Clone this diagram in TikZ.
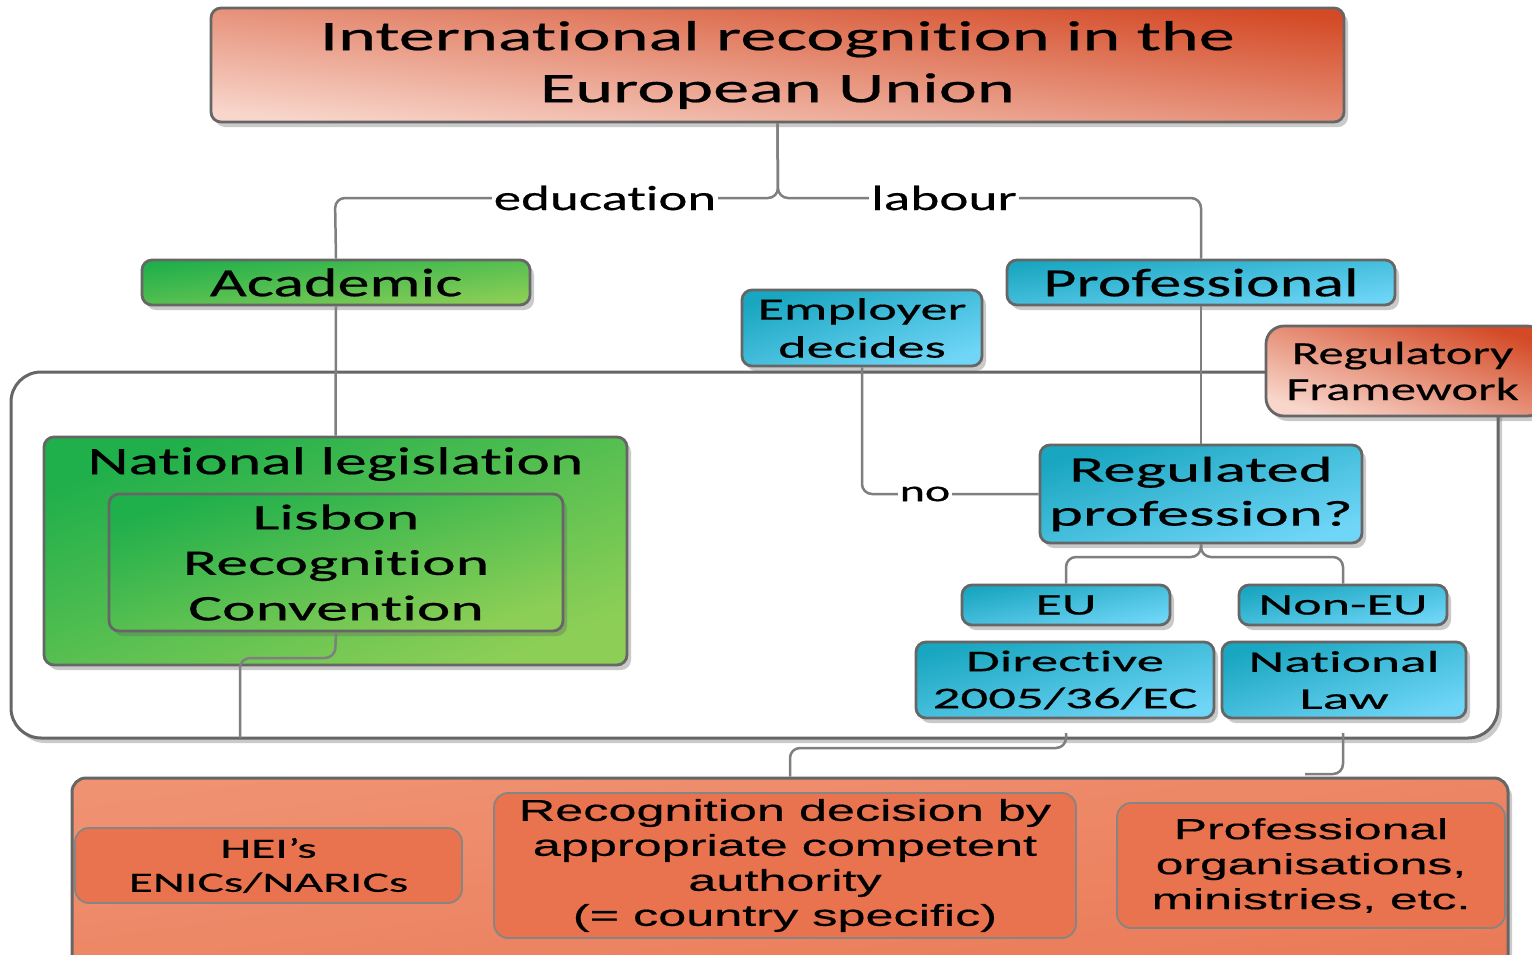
\documentclass[tikz,border=0pt]{standalone}
\usepackage{fontspec}
\setmainfont{Carlito}[Ligatures=NoCommon]
\newfontfamily\arialf{Liberation Sans}[Ligatures=NoCommon]
\usetikzlibrary{shadows}
\newcommand\fsz[3]{\fontsize{#1}{#2}\selectfont\addfontfeatures{FakeStretch=#3,FakeBold=0.5}}
\definecolor{strokec}{HTML}{666666}
\definecolor{linec}{HTML}{7F7F7F}
\definecolor{oD}{HTML}{D44A26}
\definecolor{oL}{HTML}{F8D6CB}
\definecolor{gD}{HTML}{1FAF4B}
\definecolor{gL}{HTML}{8DCF56}
\definecolor{bD}{HTML}{19A6C0}
\definecolor{bL}{HTML}{70D6F8}
\definecolor{botA}{HTML}{EF9272}
\definecolor{botB}{HTML}{EA7A57}
\definecolor{inner}{HTML}{E9734F}
\tikzset{
  shad/.style={drop shadow={shadow xshift=4pt, shadow yshift=-5pt, opacity=0.35, fill=black!60}},
  box/.style={draw=strokec, line width=2.8pt, rounded corners=10pt, inner sep=0pt, align=center, shad},
  obox/.style={box, top color=oD, bottom color=oL},
  gbox/.style={box, top color=gD, bottom color=gL},
  bbox/.style={box, top color=bD, bottom color=bL},
  ibox/.style={draw=strokec!80, line width=1.8pt, rounded corners=14pt, fill=inner, inner sep=0pt, align=center},
  conn/.style={draw=linec, line width=2.5pt, rounded corners=10pt},
  lbl/.style={fill=white, inner xsep=2pt, inner ysep=0pt},
}
\begin{document}
\begin{tikzpicture}[x=1pt,y=-1pt]
\useasboundingbox (0,0) rectangle (1532,954);
\clip (0,0) rectangle (1532,954);
% frame
\draw[draw=strokec, line width=3pt, rounded corners=30pt, fill=white, shad] (11,372) rectangle (1498,738);
% nodes
\node[obox, shading angle=-6, minimum width=1133pt, minimum height=114pt, font=\fsz{42}{52}{1.72}] (title) at (777.5,65) {International recognition in the\\European Union};
\node[gbox, shading angle=7, minimum width=388pt, minimum height=45pt, font=\fsz{40}{48}{1.6}] (acad) at (336,282.5) {Academic};
\node[bbox, shading angle=7, minimum width=388pt, minimum height=45pt, font=\fsz{40}{48}{1.6}] (prof) at (1201,282.5) {Professional};
\node[bbox, shading angle=18, minimum width=240pt, minimum height=76pt, font=\fsz{31}{38}{1.75}] (emp) at (862,328) {Employer\\decides};
\node[gbox, shading angle=21, minimum width=583pt, minimum height=228pt] (natleg) at (335.5,551) {};
\node[font=\fsz{39}{47}{1.63}] (natlegt) at (335.5,464) {National legislation};
\node[gbox, shading angle=17, minimum width=454pt, minimum height=137pt, font=\fsz{36}{45.5}{1.77}] (lisbon) at (336,562.5) {Lisbon\\Recognition\\Convention};
\node[bbox, shading angle=17, minimum width=322pt, minimum height=98pt, font=\fsz{36}{44}{1.8}] (reg) at (1201,494) {Regulated\\profession?};
\node[bbox, shading angle=11, minimum width=208pt, minimum height=40pt, font=\fsz{30}{36}{1.8}] (eu) at (1066,605) {EU};
\node[bbox, shading angle=11, minimum width=208pt, minimum height=40pt, font=\fsz{30}{36}{1.8}] (noneu) at (1343,605) {Non-EU};
\node[bbox, shading angle=14, minimum width=298pt, minimum height=76pt, font=\fsz{30}{37}{1.83}] (dir) at (1065,680) {Directive\\2005/36/EC};
\node[bbox, shading angle=17, minimum width=244pt, minimum height=76pt, font=\fsz{30}{37}{1.85}] (natlaw) at (1344,680) {National\\Law};
% connectors
\coordinate (split) at (778,198);
\draw[conn] (title.south) -- (split) -- (335,198) -- (acad.north);
\draw[conn] (title.south) -- (split) -- (1201,198) -- (prof.north);
\draw[conn] (acad.south) -- (natleg.north);
\draw[conn] (prof.south) -- (reg.north);
\draw[conn] (reg.west) -- (862,494) -- (emp.south);
\coordinate (rsplit) at (1201,557);
\draw[conn] (reg.south) -- (rsplit) -- (1066,557) -- (eu.north);
\draw[conn] (reg.south) -- (rsplit) -- (1343,557) -- (noneu.north);
\node[lbl, font=\fsz{35}{40}{1.57}] (edu) at (605,198) {education};
\node[lbl, font=\fsz{35}{40}{1.58}] (lab) at (944,198) {labour};
\node[lbl, font=\fsz{30}{36}{1.6}] (no) at (925,494) {no};
% regulatory framework (over frame)
\node[obox, shading angle=-18, minimum width=279pt, minimum height=90pt, rounded corners=18pt, font=\fsz{32}{36}{1.58}] (regf) at (1405.5,371) {\hspace*{-6pt}Regulatory\\\hspace*{-6pt}Framework};
% bottom box
\node[draw=strokec, line width=3pt, rounded corners=14pt, top color=botA, bottom color=botB, shading angle=8, minimum width=1436pt, minimum height=197pt, inner sep=0pt, shad] (bottom) at (790,876.5) {};
\node[ibox, minimum width=387pt, minimum height=75pt, font=\fsz{28}{34}{1.77}] (hei) at (268.5,865.5) {HEI’s\\ENICs/NARICs};
\node[ibox, minimum width=582pt, minimum height=145pt, font=\arialf\fsz{30}{35}{1.68}] (recog) at (785,865.5) {Recognition decision by\\appropriate competent\\authority\\(= country specific)};
\node[ibox, minimum width=388pt, minimum height=125pt, font=\arialf\fsz{29}{35}{1.72}] (porg) at (1311,865.5) {Professional\\organisations,\\ministries, etc.};
% lower connectors
\coordinate (lisb1) at (335,658);
\coordinate (lisbend) at (240,738);
\draw[conn] (lisbon.south) -- (lisb1) -- (240,658) -- (lisbend);
\coordinate (dirstart) at (1066,733);
\draw[conn] (dirstart) -- (1066,748) -- (790,748) -- (bottom.north);
\coordinate (nlstart) at (1343,733);
\coordinate (nlend) at (1305,774);
\draw[conn] (nlstart) -- (1343,774) -- (nlend);
\end{tikzpicture}
\end{document}
